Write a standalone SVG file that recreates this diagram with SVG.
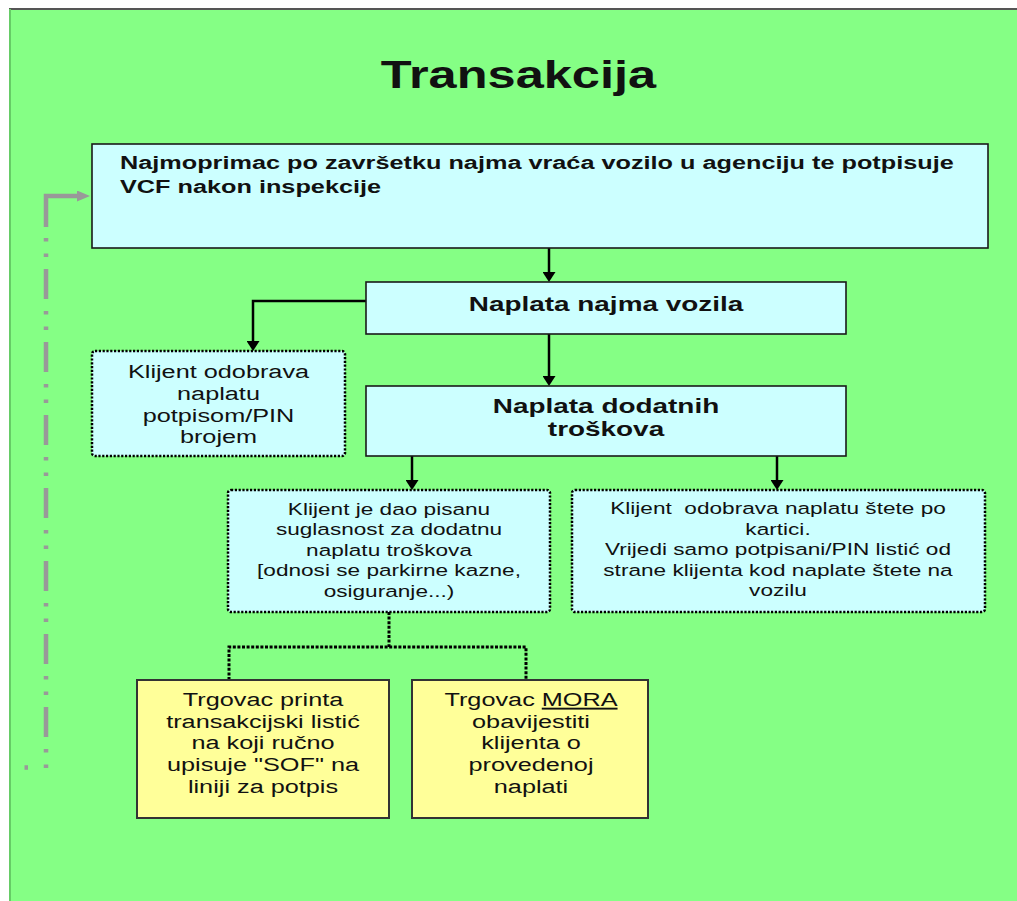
<svg xmlns="http://www.w3.org/2000/svg" width="1017" height="901" viewBox="0 0 1017 901">
<defs>
<style>
.t{font-family:"Liberation Sans",Arial,sans-serif;fill:#111;}
.b{font-weight:bold;}
.box{fill:#CCFFFF;stroke:#1a1a1a;stroke-width:1.6;}
.dbox{fill:#CCFFFF;stroke:#000;stroke-width:2.5;stroke-dasharray:2.2 1.6;}
.ybox{fill:#FFFF99;stroke:#333;stroke-width:2;}
.con{fill:none;stroke:#000;stroke-width:2.5;}
.dcon{fill:none;stroke:#000;stroke-width:3;stroke-dasharray:3 1.6;}
.gcon{fill:none;stroke:#999;stroke-width:4.5;}
</style>
<marker id="ah" viewBox="0 0 10 13" refX="2" refY="6.5" markerWidth="10" markerHeight="13" markerUnits="userSpaceOnUse" orient="auto">
<path d="M0,0 L10,6.5 L0,13 z" fill="#000"/>
</marker>
<marker id="gah" viewBox="0 0 13 11" refX="5" refY="5.5" markerWidth="13" markerHeight="11" markerUnits="userSpaceOnUse" orient="auto">
<path d="M0,0 L13,5.5 L0,11 z" fill="#999"/>
</marker>
</defs>
<rect x="0" y="0" width="1017" height="901" fill="#fff"/>
<rect x="9" y="8" width="1008" height="893" fill="#85FF85"/>
<line x1="9" y1="9" x2="1017" y2="9" stroke="#555" stroke-width="2"/>
<line x1="10" y1="9" x2="10" y2="901" stroke="#66CC66" stroke-width="2"/>

<g id="title">
<text class="t b" font-size="38" text-anchor="middle" transform="matrix(1.33 0 0 1 518.5 0)"><tspan x="0" y="88.5">Transakcija</tspan></text>
</g>

<g id="connectors">
<path class="con" d="M549 248 V274" marker-end="url(#ah)"/>
<path class="con" d="M549 334 V378" marker-end="url(#ah)"/>
<path class="con" d="M366 301 H253 V343" marker-end="url(#ah)"/>
<path class="con" d="M412 456 V482" marker-end="url(#ah)"/>
<path class="con" d="M777 456 V482" marker-end="url(#ah)"/>
<path class="dcon" d="M389 612 V647"/>
<path class="dcon" d="M229 680 V647 H526 V680"/>
<path class="gcon" d="M46 227 V196 H82" marker-end="url(#gah)"/>
<path class="gcon" d="M46 226 V768" stroke-dasharray="30 12 3.5 12 3.5 12" stroke-dashoffset="30"/>
<path class="gcon" d="M24.5 767.5 H28"/>
</g>

<g id="n1">
<rect class="box" x="92" y="144" width="896" height="104"/>
<text class="t b" font-size="19" transform="matrix(1.33 0 0 1 120 0)"><tspan x="0" y="169.5">Najmoprimac po završetku najma vraća vozilo u agenciju te potpisuje</tspan><tspan x="0" y="193.5">VCF nakon inspekcije</tspan></text>
</g>

<g id="n2">
<rect class="box" x="366" y="282" width="480" height="52"/>
<text class="t b" font-size="21" text-anchor="middle" transform="matrix(1.33 0 0 1 606 0)"><tspan x="0" y="311">Naplata najma vozila</tspan></text>
</g>

<g id="n3">
<rect class="box" x="366" y="386" width="480" height="70"/>
<text class="t b" font-size="21" text-anchor="middle" transform="matrix(1.33 0 0 1 606 0)"><tspan x="0" y="413">Naplata dodatnih</tspan><tspan x="0" y="436.5">troškova</tspan></text>
</g>

<g id="n4">
<rect class="dbox" x="92" y="351" width="253" height="105" rx="3"/>
<text class="t" font-size="19" text-anchor="middle" transform="matrix(1.33 0 0 1 218.5 0)"><tspan x="0" y="378.3">Klijent odobrava</tspan><tspan x="0" y="400">naplatu</tspan><tspan x="0" y="421.7">potpisom/PIN</tspan><tspan x="0" y="443.3">brojem</tspan></text>
</g>

<g id="n5">
<rect class="dbox" x="228" y="490" width="322" height="122" rx="3"/>
<text class="t" font-size="17" text-anchor="middle" transform="matrix(1.33 0 0 1 389 0)"><tspan x="0" y="515">Klijent je dao pisanu</tspan><tspan x="0" y="535.5">suglasnost za dodatnu</tspan><tspan x="0" y="556">naplatu troškova</tspan><tspan x="0" y="576.5">[odnosi se parkirne kazne,</tspan><tspan x="0" y="597">osiguranje...)</tspan></text>
</g>

<g id="n6">
<rect class="dbox" x="572" y="490" width="413" height="122" rx="3"/>
<text class="t" font-size="17" text-anchor="middle" transform="matrix(1.33 0 0 1 778 0)" xml:space="preserve"><tspan x="0" y="514.5">Klijent  odobrava naplatu štete po</tspan><tspan x="0" y="535">kartici.</tspan><tspan x="0" y="555.5">Vrijedi samo potpisani/PIN listić od</tspan><tspan x="0" y="576">strane klijenta kod naplate štete na</tspan><tspan x="0" y="596.5">vozilu</tspan></text>
</g>

<g id="n7">
<rect class="ybox" x="137" y="680" width="252" height="138"/>
<text class="t" font-size="19" text-anchor="middle" transform="matrix(1.33 0 0 1 263 0)"><tspan x="0" y="706">Trgovac printa</tspan><tspan x="0" y="727.7">transakcijski listić</tspan><tspan x="0" y="749.3">na koji ručno</tspan><tspan x="0" y="771">upisuje "SOF" na</tspan><tspan x="0" y="792.7">liniji za potpis</tspan></text>
</g>

<g id="n8">
<rect class="ybox" x="412" y="680" width="236" height="138"/>
<text class="t" font-size="19" text-anchor="middle" transform="matrix(1.33 0 0 1 531 0)"><tspan x="0" y="706">Trgovac <tspan text-decoration="underline">MORA</tspan></tspan><tspan x="0" y="727.7">obavijestiti</tspan><tspan x="0" y="749.3">klijenta o</tspan><tspan x="0" y="771">provedenoj</tspan><tspan x="0" y="792.7">naplati</tspan></text>
</g>
</svg>
